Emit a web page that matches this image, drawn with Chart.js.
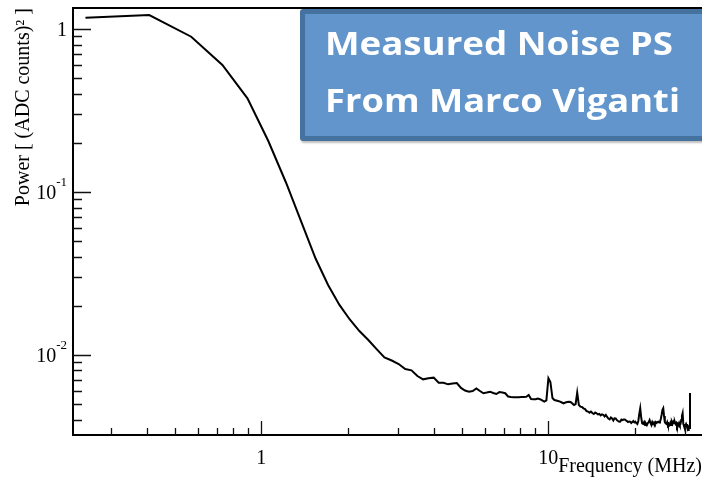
<!DOCTYPE html>
<html><head><meta charset="utf-8">
<script src="https://cdn.jsdelivr.net/npm/chart.js@4.4.1/dist/chart.umd.min.js"></script>
<style>
html,body{margin:0;padding:0;background:#fff;overflow:hidden;}
#wrap{position:relative;width:702px;height:478px;overflow:hidden;}
#c{position:absolute;left:0;top:0;}
#note{position:absolute;left:300px;top:9px;width:430px;height:132px;box-sizing:border-box;background:#6195cc;border:5px solid #46729f;border-radius:3px;box-shadow:1px 2px 2px rgba(0,0,0,0.25);}
.ln{position:absolute;left:20px;color:#fff;font-family:'Open Sans',sans-serif;font-weight:700;font-size:33px;line-height:33px;white-space:nowrap;transform-origin:0 50%;}
</style></head>
<body>
<div id="wrap">
<canvas id="c" width="702" height="478"></canvas>
<div id="note"><span class="ln" id="l1" style="top:11.7px">Measured Noise PS</span><span class="ln" id="l2" style="top:68.7px">From Marco Viganti</span></div>
</div>
<script>
// Frequency bins (MHz)
const freqMHz = [
0.244,0.407,0.570,0.732,0.895,1.058,1.221,1.383,1.546,1.709,
1.872,2.034,2.197,2.360,2.523,2.686,2.848,3.011,3.174,3.337,
3.499,3.662,3.825,3.988,4.150,4.313,4.476,4.639,4.801,4.964,
5.127,5.290,5.452,5.615,5.778,5.941,6.104,6.266,6.429,6.592,
6.755,6.917,7.080,7.243,7.406,7.568,7.731,7.894,8.057,8.219,
8.382,8.545,8.708,8.870,9.033,9.196,9.359,9.521,9.684,9.847,
10.01,10.17,10.34,10.50,10.66,10.82,10.99,11.15,11.31,11.47,
11.64,11.80,11.96,12.13,12.29,12.45,12.61,12.78,12.94,13.10,
13.26,13.43,13.59,13.75,13.92,14.08,14.24,14.40,14.57,14.73,
14.89,15.06,15.22,15.38,15.54,15.71,15.87,16.03,16.19,16.36,
16.52,16.68,16.85,17.01,17.17,17.33,17.50,17.66,17.82,17.98,
18.15,18.31,18.47,18.64,18.80,18.96,19.12,19.29,19.45,19.61,
19.78,19.94,20.10,20.26,20.43,20.59,20.75,20.91,21.08,21.24,
21.40,21.57,21.73,21.89,22.05,22.22,22.38,22.54,22.71,22.87,
23.03,23.19,23.36,23.52,23.68,23.84,24.01,24.17,24.33,24.50,
24.66,24.82,24.98,25.15,25.31,25.47,25.63,25.80,25.96,26.12,
26.29,26.45,26.61,26.77,26.94,27.10,27.26,27.43,27.59,27.75,
27.91,28.08,28.24,28.40,28.56,28.73,28.89,29.05,29.22,29.38,
29.54,29.70,29.87,30.03,30.19,30.35,30.52,30.68,30.84,31.01,31.17
];
// Power [(ADC counts)^2]
const powerADC2 = [
1.168,1.213,0.893,0.599,0.374,0.2047,0.1131,0.0643,0.0389,0.0268,
0.0202,0.01644,0.01397,0.01231,0.01081,0.00961,0.00921,0.00877,0.00817,0.00802,
0.00740,0.00706,0.00717,0.00723,0.00673,0.00673,0.00658,0.00666,0.00670,0.00625,
0.00603,0.00593,0.00599,0.00620,0.00599,0.00580,0.00586,0.00593,0.00582,0.00574,
0.00590,0.00586,0.00580,0.00554,0.00550,0.00548,0.00548,0.00548,0.00550,0.00550,
0.00552,0.00566,0.00535,0.00533,0.00533,0.00539,0.00533,0.00524,0.00515,0.00524,
0.00717,0.00680,0.00542,0.00527,0.00524,0.00520,0.00515,0.00509,0.00503,0.00509,
0.00513,0.00515,0.00513,0.00502,0.00491,0.00498,0.00585,0.00491,0.00480,0.00478,
0.00469,0.00464,0.00451,0.00448,0.00441,0.00448,0.00439,0.00433,0.00442,0.00437,
0.00430,0.00433,0.00424,0.00430,0.00427,0.00418,0.00427,0.00415,0.00406,0.00401,
0.00412,0.00406,0.00395,0.00407,0.00406,0.00397,0.00392,0.00388,0.00389,0.00400,
0.00397,0.00401,0.00401,0.00395,0.00392,0.00386,0.00389,0.00388,0.00381,0.00386,
0.00392,0.00384,0.00388,0.00381,0.00376,0.00392,0.00433,0.00469,0.00409,0.00379,
0.00376,0.00386,0.00370,0.00378,0.00370,0.00381,0.00386,0.00397,0.00381,0.00370,
0.00386,0.00376,0.00384,0.00376,0.00386,0.00381,0.00386,0.00388,0.00384,0.00388,
0.00403,0.00427,0.00458,0.00469,0.00421,0.00386,0.00379,0.00376,0.00386,0.00370,
0.00376,0.00370,0.00381,0.00370,0.00386,0.00376,0.00388,0.00381,0.00388,0.00376,
0.00381,0.00365,0.00376,0.00370,0.00381,0.00370,0.00376,0.00397,0.00421,0.00437,
0.00376,0.00365,0.00354,0.00370,0.00376,0.00365,0.00355,0.00345,0.00360,0.00355,0.00582
];
// Axis ranges and ticks
const xRange = [0.2208, 34.32];
const yRange = [0.003216, 1.34];
const xMajorTicks = [1, 10];
const xTickLabels = ['1', '10'];
const xMinorTicks = [0.3,0.4,0.5,0.6,0.7,0.8,0.9,2,3,4,5,6,7,8,9,20,30];
const yMajorTicks = [1, 0.1, 0.01];
const yTickBase = ['1', '10', '10'];
const yTickExp = ['', '-1', '-2'];
const yMinorTicks = [0.004,0.005,0.006,0.007,0.008,0.009,0.02,0.03,0.04,0.05,0.06,0.07,0.08,0.09,0.2,0.3,0.4,0.5,0.6,0.7,0.8,0.9];
const xTitle = 'Frequency (MHz)';
const yTitle = 'Power [ (ADC counts)\u00B2 ]';

const SERIF = '"Liberation Serif", "Times New Roman", serif';

const rootFrame = {
  id: 'rootFrame',
  afterDraw(chart) {
    const {ctx, chartArea: a, scales: {x, y}} = chart;
    ctx.save();
    ctx.strokeStyle = '#000';
    ctx.lineWidth = 2;
    ctx.beginPath(); ctx.moveTo(a.left - 1, a.top); ctx.lineTo(a.right, a.top); ctx.stroke();
    ctx.lineWidth = 1.3;
    ctx.strokeStyle = '#111';
    ctx.beginPath();
    xMajorTicks.forEach(v => { const p = Math.round(x.getPixelForValue(v)) + 0.5; ctx.moveTo(p, a.bottom); ctx.lineTo(p, a.bottom - 14); });
    xMinorTicks.forEach(v => { const p = Math.round(x.getPixelForValue(v)) + 0.5; ctx.moveTo(p, a.bottom); ctx.lineTo(p, a.bottom - 7); });
    yMajorTicks.forEach(v => { const p = Math.round(y.getPixelForValue(v)) + 0.5; ctx.moveTo(a.left, p); ctx.lineTo(a.left + 18, p); });
    yMinorTicks.forEach(v => { const p = Math.round(y.getPixelForValue(v)) + 0.5; ctx.moveTo(a.left, p); ctx.lineTo(a.left + 9, p); });
    ctx.stroke();
    // y tick labels with superscript exponents
    ctx.fillStyle = '#000';
    ctx.textBaseline = 'alphabetic';
    ctx.textAlign = 'right';
    const rightEdge = a.left - 6;
    yMajorTicks.forEach((v, i) => {
      const p = y.getPixelForValue(v);
      let xr = rightEdge;
      if (yTickExp[i]) {
        ctx.font = '13px ' + SERIF;
        ctx.fillText(yTickExp[i], xr, p - 6);
        xr -= ctx.measureText(yTickExp[i]).width;
      }
      ctx.font = '20px ' + SERIF;
      ctx.fillText(yTickBase[i], xr, p + 7);
    });
    ctx.restore();
  }
};

new Chart(document.getElementById('c'), {
  type: 'line',
  data: {
    datasets: [{
      data: freqMHz.map((f, i) => ({x: f, y: powerADC2[i]})),
      borderColor: '#000',
      borderWidth: 2,
      pointRadius: 0,
      tension: 0,
      fill: false
    }]
  },
  options: {
    responsive: false,
    animation: false,
    events: [],
    layout: {padding: {top: 8, right: 0, left: 0, bottom: 0}},
    plugins: {legend: {display: false}, tooltip: {enabled: false}},
    scales: {
      x: {
        type: 'logarithmic',
        bounds: 'data',
        min: xRange[0], max: xRange[1],
        grid: {display: false, drawTicks: false},
        border: {display: true, color: '#000', width: 2},
        afterBuildTicks: s => { s.ticks = xMajorTicks.map(v => ({value: v})); },
        afterFit: s => { s.height = 43; },
        ticks: {
          autoSkip: false, maxRotation: 0, padding: 12, color: '#000',
          font: {family: SERIF, size: 20},
          callback: v => { const i = xMajorTicks.indexOf(v); return i >= 0 ? xTickLabels[i] : ''; }
        },
        title: {display: true, text: xTitle, align: 'end', color: '#000', font: {family: SERIF, size: 20}, padding: {top: 0, bottom: -1}}
      },
      y: {
        type: 'logarithmic',
        bounds: 'data',
        min: yRange[0], max: yRange[1],
        grid: {display: false, drawTicks: false},
        border: {display: true, color: '#000', width: 2},
        afterBuildTicks: s => { s.ticks = yMajorTicks.map(v => ({value: v})); },
        afterFit: s => { s.width = 73; },
        ticks: {display: false},
        title: {display: true, text: yTitle, align: 'end', color: '#000', font: {family: SERIF, size: 20}, padding: {top: 12, bottom: 0}}
      }
    }
  },
  plugins: [rootFrame]
});

// fit the overlay text to the widths seen in the picture
[['l1', 348], ['l2', 355]].forEach(([id, w]) => {
  const el = document.getElementById(id);
  const cur = el.getBoundingClientRect().width;
  if (cur > 0) el.style.transform = 'scaleX(' + (w / cur).toFixed(3) + ')';
});
</script>
</body></html>
